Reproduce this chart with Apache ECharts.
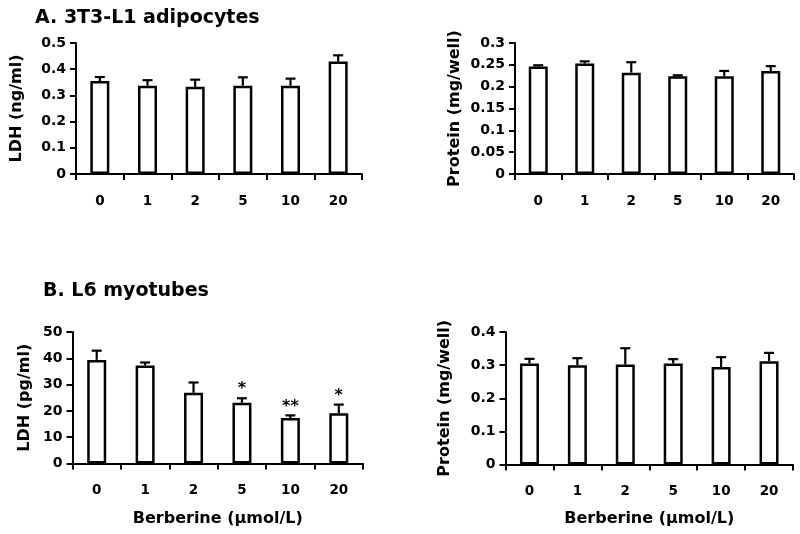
<!DOCTYPE html>
<html>
<head>
<meta charset="utf-8">
<script src="https://cdn.jsdelivr.net/npm/echarts@6/dist/echarts.min.js"></script>
<style>
html,body{margin:0;padding:0;background:#fff;}
#c{width:800px;height:534px;}
</style>
</head>
<body>
<div id="c"></div>
<script>
// ---- data ----
var doses = ['0', '1', '2', '5', '10', '20'];

var ldhA = [0.355, 0.337, 0.333, 0.337, 0.337, 0.429];
var ldhAErr = [0.015, 0.021, 0.027, 0.032, 0.027, 0.024];

var protA = [0.246, 0.253, 0.232, 0.224, 0.224, 0.236];
var protAErr = [0.003, 0.005, 0.024, 0.002, 0.012, 0.011];

var ldhB = [39.4, 37.3, 26.9, 23.1, 17.3, 19.1];
var ldhBErr = [3.5, 1.1, 3.9, 1.7, 1.0, 3.3];
var ldhBSig = ['', '', '', '*', '**', '*'];

var protB = [0.305, 0.300, 0.302, 0.305, 0.294, 0.312];
var protBErr = [0.014, 0.021, 0.049, 0.013, 0.030, 0.025];

var titleA = 'A. 3T3-L1 adipocytes';
var titleB = 'B. L6 myotubes';
var xName = 'Berberine (\u00b5mol/L)';

// ---- chart ----
var FONT = 'DejaVu Sans';
var chart = echarts.init(document.getElementById('c'), null, {renderer: 'canvas'});

var grids = [
  {left: 76, top: 43, width: 286, height: 131},
  {left: 515, top: 43, width: 279, height: 131},
  {left: 72.5, top: 332, width: 290.5, height: 131.5},
  {left: 505.5, top: 332, width: 287.5, height: 132.5}
];

function xAxis(idx, name, gap) {
  return {
    type: 'category', gridIndex: idx, data: doses,
    boundaryGap: true,
    name: name || '', nameLocation: 'middle', nameGap: gap || 0,
    nameTextStyle: {fontFamily: FONT, fontWeight: 'bold', fontSize: 16, color: '#000'},
    axisLine: {lineStyle: {color: '#000', width: 2}},
    axisTick: {show: true, length: 6, lineStyle: {color: '#000', width: 2}},
    axisLabel: {margin: 20, fontFamily: FONT, fontWeight: 'bold', fontSize: 13.5, color: '#000'},
    splitLine: {show: false}
  };
}
function yAxis(idx, name, max, interval, gap) {
  return {
    type: 'value', gridIndex: idx, min: 0, max: max, interval: interval,
    name: name, nameLocation: 'middle', nameGap: gap,
    nameTextStyle: {fontFamily: FONT, fontWeight: 'bold', fontSize: 16, color: '#000'},
    axisLine: {show: true, lineStyle: {color: '#000', width: 2}},
    axisTick: {show: true, length: 6, lineStyle: {color: '#000', width: 2}},
    axisLabel: {margin: 10, fontFamily: FONT, fontWeight: 'bold', fontSize: 14, color: '#000'},
    splitLine: {show: false}
  };
}

function barSeries(idx, vals) {
  return {
    type: 'bar', xAxisIndex: idx, yAxisIndex: idx, data: vals,
    barWidth: 19,
    itemStyle: {color: '#fff', borderColor: '#000', borderWidth: 2.5},
    emphasis: {disabled: true},
    z: 2
  };
}

function errSeries(idx, vals, errs, sig) {
  var data = vals.map(function (v, i) { return [i, v, v + errs[i]]; });
  return {
    type: 'custom', xAxisIndex: idx, yAxisIndex: idx,
    data: data, encode: {x: 0, y: [1, 2]}, z: 3,
    renderItem: function (params, api) {
      var i = api.value(0);
      var base = api.coord([i, api.value(1)]);
      var top = api.coord([i, api.value(2)]);
      var children = [
        {type: 'line', shape: {x1: base[0], y1: base[1], x2: top[0], y2: top[1]},
         style: {stroke: '#000', lineWidth: 2.2}},
        {type: 'line', shape: {x1: top[0] - 5, y1: top[1], x2: top[0] + 5, y2: top[1]},
         style: {stroke: '#000', lineWidth: 2.2}}
      ];
      if (sig && sig[params.dataIndex]) {
        children.push({
          type: 'text',
          style: {x: top[0], y: top[1] - 9, text: sig[params.dataIndex],
                  align: 'center', verticalAlign: 'middle',
                  font: 'bold 16px "DejaVu Sans"', fill: '#000'}
        });
      }
      return {type: 'group', children: children};
    }
  };
}

var option = {
  backgroundColor: '#fff',
  animation: false,
  title: [
    {text: titleA, left: 35, top: 9, padding: 0,
     textStyle: {fontFamily: FONT, fontWeight: 'bold', fontSize: 19, color: '#000'}},
    {text: titleB, left: 43, top: 282, padding: 0,
     textStyle: {fontFamily: FONT, fontWeight: 'bold', fontSize: 19, color: '#000'}}
  ],
  grid: grids,
  xAxis: [
    xAxis(0), xAxis(1),
    xAxis(2, xName, 47), xAxis(3, xName, 46)
  ],
  yAxis: [
    yAxis(0, 'LDH (ng/ml)', 0.5, 0.1, 51),
    yAxis(1, 'Protein (mg/well)', 0.3, 0.05, 52),
    yAxis(2, 'LDH (pg/ml)', 50, 10, 40),
    yAxis(3, 'Protein (mg/well)', 0.4, 0.1, 53)
  ],
  series: [
    barSeries(0, ldhA), errSeries(0, ldhA, ldhAErr),
    barSeries(1, protA), errSeries(1, protA, protAErr),
    barSeries(2, ldhB), errSeries(2, ldhB, ldhBErr, ldhBSig),
    barSeries(3, protB), errSeries(3, protB, protBErr)
  ]
};
chart.setOption(option);
</script>
</body>
</html>
